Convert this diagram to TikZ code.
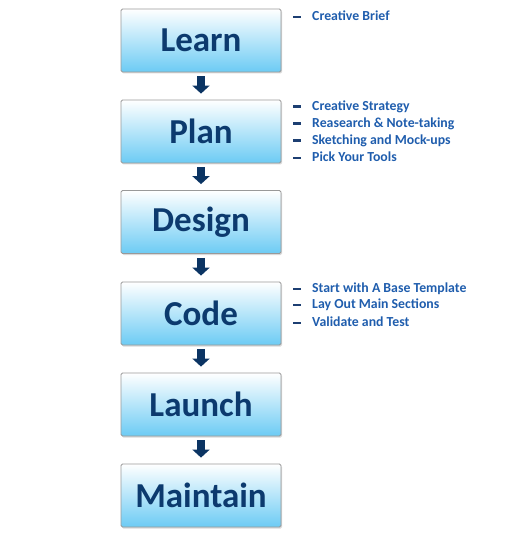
\documentclass[tikz,border=0pt]{standalone}
\usepackage{fontspec}
\setmainfont{Carlito}
\usetikzlibrary{arrows.meta,shadows}
\definecolor{stepnavy}{HTML}{0C3A6E}
\definecolor{stepsky}{HTML}{6CCBF4}
\definecolor{notesblue}{HTML}{1F5DAD}
\definecolor{dashnavy}{HTML}{1D3F72}

\begin{document}
\begin{tikzpicture}[x=1pt,y=-1pt,
    stepbox/.style={draw=black!40,line width=0.8pt,rounded corners=1.5pt,
      minimum width=160pt,minimum height=63pt,
      top color=white,bottom color=stepsky,
      drop shadow={opacity=0.3,shadow xshift=1pt,shadow yshift=-1.5pt},
      font=\fontsize{35}{40}\selectfont\bfseries,text=stepnavy},
    flow/.style={line width=8pt,stepnavy!90!black,
      -{Triangle[width=17pt,length=8pt]},shorten <=4pt,shorten >=6pt},
    note/.style={anchor=west,inner sep=0pt,text=notesblue,
      font=\fontsize{13.8}{16}\selectfont\bfseries}]
  \useasboundingbox (0,0) rectangle (525,540);
  % the six steps
  \node[stepbox] (learn)    at (201,40.5)  {Learn};
  \node[stepbox] (plan)     at (201,131.5) {Plan};
  \node[stepbox] (design)   at (201,222)   {Design};
  \node[stepbox] (code)     at (201,313.5) {Code};
  \node[stepbox] (launch)   at (201,404.5) {Launch};
  \node[stepbox] (maintain) at (201,495.5) {Maintain};
  \draw[flow] (learn) -- (plan);
  \draw[flow] (plan) -- (design);
  \draw[flow] (design) -- (code);
  \draw[flow] (code) -- (launch);
  \draw[flow] (launch) -- (maintain);
  % notes on the right
  \newcommand{\notedash}{\makebox[19pt][l]{\textcolor{dashnavy}{\rule[3pt]{7.5pt}{2.2pt}}}}
  \node[note] (brief)    at (293,16)  {\notedash Creative Brief};
  \node[note] (strategy) at (293,107) {\notedash Creative Strategy};
  \node[note] (research) at (293,124) {\notedash Reasearch \& Note-taking};
  \node[note] (sketch)   at (293,141) {\notedash Sketching and Mock-ups};
  \node[note] (tools)    at (293,157) {\notedash Pick Your Tools};
  \node[note] (base)     at (293,289) {\notedash Start with A Base Template};
  \node[note] (layout)   at (293,305) {\notedash Lay Out Main Sections};
  \node[note] (validate) at (293,322) {\notedash Validate and Test};
\end{tikzpicture}
\end{document}
